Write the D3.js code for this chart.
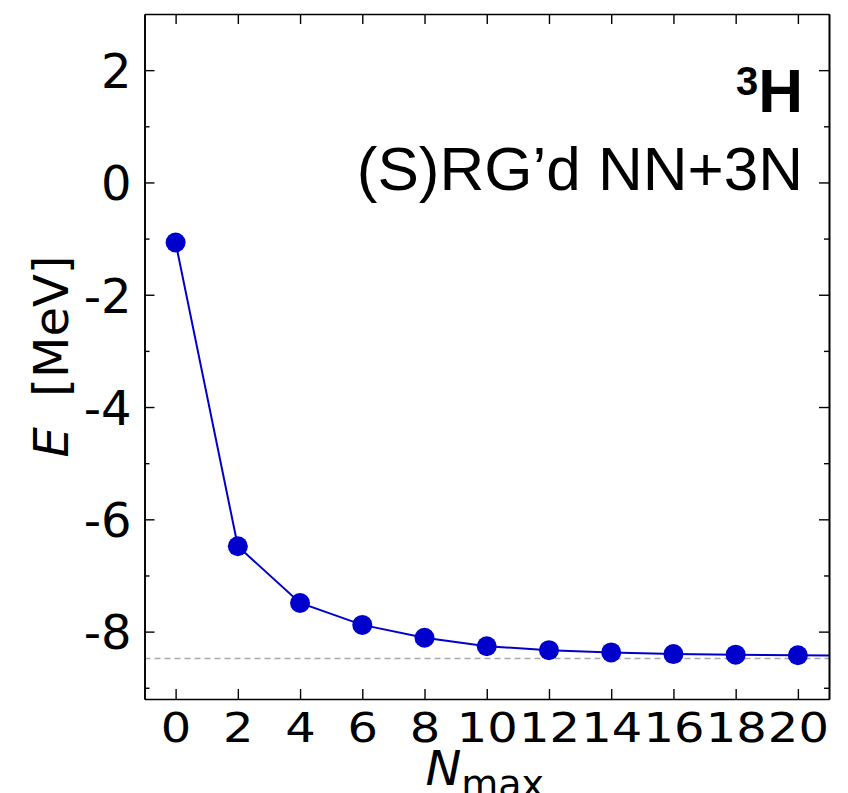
<!DOCTYPE html>
<html lang="en">
<head>
<meta charset="UTF-8">
<title>3H ground state energy vs Nmax</title>
<script src="https://cdn.jsdelivr.net/npm/d3@7"></script>
<style>
  body { margin: 0; background: #fff; }
  svg { display: block; }
</style>
</head>
<body>
<div id="chart"></div>
<script>
// data
const nmax = [0, 2, 4, 6, 8, 10, 12, 14, 16, 18, 20, 22];
const energy = [-1.07, -6.48, -7.49, -7.88, -8.11, -8.26, -8.33, -8.37, -8.40, -8.41, -8.42, -8.43];
const exactEnergy = -8.48;
const xTicks = [0, 2, 4, 6, 8, 10, 12, 14, 16, 18, 20];
const yTicks = [-8, -6, -4, -2, 0, 2];
const yMinor = [-9, -7, -5, -3, -1, 1];

const W = 848, H = 793;
const m = {left: 144.5, right: 829, top: 14, bottom: 699};

const svg = d3.select("#chart").append("svg")
  .attr("width", W).attr("height", H);

const x = d3.scaleLinear().domain([-1, 21]).range([m.left, m.right]);
const y = d3.scaleLinear().domain([-9.2, 3]).range([m.bottom, m.top]);

// clip for data
svg.append("clipPath").attr("id", "clip")
  .append("rect")
  .attr("x", m.left).attr("y", m.top)
  .attr("width", m.right - m.left).attr("height", m.bottom - m.top);

const plot = svg.append("g").attr("clip-path", "url(#clip)");

// dashed reference line (exact value)
plot.append("line")
  .attr("x1", x(-1)).attr("x2", x(21))
  .attr("y1", y(exactEnergy)).attr("y2", y(exactEnergy))
  .attr("stroke", "#a8a8a8")
  .attr("stroke-width", 1.6)
  .attr("stroke-dasharray", "6,4");

const pts = nmax.map((n, i) => ({n: n, e: energy[i]}));

plot.append("path")
  .datum(pts)
  .attr("fill", "none")
  .attr("stroke", "#0000cc")
  .attr("stroke-width", 2)
  .attr("d", d3.line().x(d => x(d.n)).y(d => y(d.e)));

plot.selectAll("circle")
  .data(pts)
  .enter().append("circle")
  .attr("cx", d => x(d.n))
  .attr("cy", d => y(d.e))
  .attr("r", 10)
  .attr("fill", "#0000cc");

// axes, ticks pointing inwards
function styleAxis(g) {
  g.select(".domain").attr("stroke", "#000").attr("stroke-width", 1.6);
  g.selectAll(".tick line").attr("stroke", "#000").attr("stroke-width", 1.4);
  g.selectAll("text")
    .attr("fill", "#000")
    .style("font-family", "'DejaVu Sans', sans-serif")
    .style("font-size", "48px");
}

const fmt = d => String(d);

svg.append("g")
  .attr("transform", "translate(" + m.left + ",0)")
  .call(d3.axisLeft(y).tickValues(yTicks).tickFormat(fmt)
    .tickSizeInner(-10).tickSizeOuter(0).tickPadding(13))
  .call(styleAxis)
  .selectAll("text").attr("dy", "0.36em");

svg.append("g")
  .attr("transform", "translate(" + m.left + ",0)")
  .call(d3.axisLeft(y).tickValues(yMinor).tickFormat("")
    .tickSizeInner(-5).tickSizeOuter(0))
  .call(styleAxis);

svg.append("g")
  .attr("transform", "translate(" + m.right + ",0)")
  .call(d3.axisRight(y).tickValues(yTicks).tickFormat("")
    .tickSizeInner(-10).tickSizeOuter(0))
  .call(styleAxis);

svg.append("g")
  .attr("transform", "translate(" + m.right + ",0)")
  .call(d3.axisRight(y).tickValues(yMinor).tickFormat("")
    .tickSizeInner(-5).tickSizeOuter(0))
  .call(styleAxis);

const xAxisG = svg.append("g")
  .attr("transform", "translate(0," + m.bottom + ")")
  .call(d3.axisBottom(x).tickValues(xTicks).tickFormat(fmt)
    .tickSizeInner(-10).tickSizeOuter(0).tickPadding(0))
  .call(styleAxis);
// labels look a bit squashed vertically in the original
xAxisG.selectAll(".tick text")
  .attr("y", 0).attr("dy", 0)
  .attr("transform", "translate(0,43) scale(1,0.86)");

svg.append("g")
  .attr("transform", "translate(0," + m.top + ")")
  .call(d3.axisTop(x).tickValues(xTicks).tickFormat("")
    .tickSizeInner(-10).tickSizeOuter(0))
  .call(styleAxis);

// axis titles
const xl = svg.append("text")
  .attr("x", (m.left + m.right) / 2 - 2)
  .attr("y", 785)
  .attr("text-anchor", "middle")
  .style("font-family", "'DejaVu Sans', sans-serif")
  .style("font-size", "48px");
xl.append("tspan").style("font-style", "italic").text("N");
xl.append("tspan").attr("dy", 12).style("font-size", "38px").text("max");

svg.append("text")
  .attr("transform", "translate(68," + ((m.top + m.bottom) / 2) + ") rotate(-90)")
  .attr("text-anchor", "middle")
  .style("font-family", "'DejaVu Sans', sans-serif")
  .style("font-size", "48px")
  .html("<tspan font-style='italic'>E</tspan>\u00a0\u00a0[MeV]");

// annotation
const ann = svg.append("text")
  .attr("x", 803).attr("y", 112)
  .attr("text-anchor", "end")
  .style("font-family", "'Liberation Sans', Arial, sans-serif");
ann.append("tspan").attr("dy", -17).style("font-size", "40px").style("font-weight", "bold").text("3");
ann.append("tspan").attr("dy", 17).style("font-size", "62px").style("font-weight", "bold").text("H");

svg.append("text")
  .attr("x", 803).attr("y", 190)
  .attr("text-anchor", "end")
  .style("font-family", "'Liberation Sans', Arial, sans-serif")
  .style("font-size", "62px")
  .text("(S)RG\u2019d NN+3N");
</script>
</body>
</html>
